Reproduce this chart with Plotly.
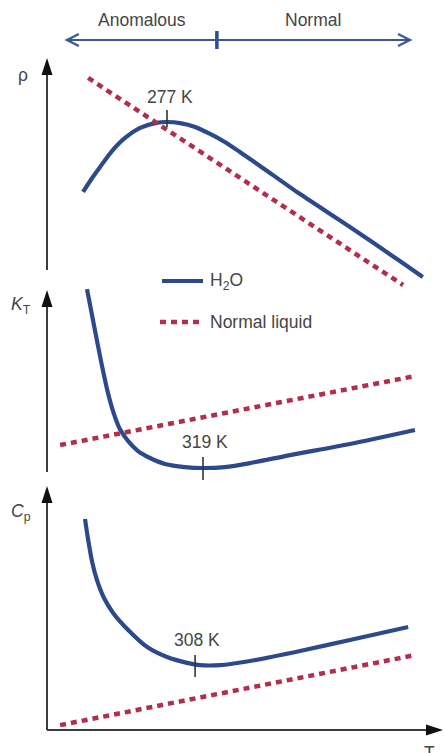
import plotly.graph_objects as go

# ---------------- data (schematic units: T 0..100 along the T axis; each property 0..100 along its axis) -------------
T_rho_h2o = [9.1, 11.4, 13.4, 16.4, 19.7, 23.5, 27.3, 30.3, 33.6, 37.4, 41.2, 44.9, 48.7, 53.8, 63.9, 76.5, 89.1, 94.9]
rho_h2o = [36.8, 43.4, 48.6, 56.1, 62.3, 67.0, 69.3, 69.8, 69.3, 67.5, 64.2, 60.4, 55.7, 49.1, 35.8, 20.3, 4.2, -3.3]
T_rho_normal = [10.4, 89.9]
rho_normal = [90.6, -7.1]

T_kt_h2o = [10.1, 12.1, 13.9, 15.4, 16.9, 18.4, 20.5, 23.0, 26.0, 29.8, 34.8, 39.4, 44.9, 51.3, 61.4, 76.5, 92.9]
kt_h2o = [100.5, 78.0, 58.2, 43.4, 31.9, 23.6, 17.0, 11.5, 7.7, 4.4, 2.7, 2.2, 2.7, 4.9, 9.3, 15.4, 23.1]
T_kt_normal = [3.3, 92.9]
kt_normal = [14.8, 52.7]

T_cp_h2o = [9.6, 10.4, 11.4, 12.6, 14.4, 16.7, 20.5, 25.3, 30.3, 35.4, 38.6, 43.7, 51.3, 63.9, 76.5, 91.2]
cp_h2o = [86.5, 77.9, 68.9, 61.5, 54.1, 48.0, 41.0, 34.0, 29.9, 27.5, 26.6, 26.6, 28.3, 32.4, 36.9, 42.2]
T_cp_normal = [3.3, 92.9]
cp_normal = [2.0, 30.7]

# special points (T position, property value, label)
extrema_T = [30.3, 39.4, 37.4]
extrema_val = [69.8, 2.2, 26.6]
extrema_labels = ["277 K", "319 K", "308 K"]

regime_labels = ["Anomalous", "Normal"]
axis_labels = ["ρ", "<i>K</i><sub>T</sub>", "<i>C</i><sub>p</sub>", "T"]
legend_labels = ["H<sub>2</sub>O", "Normal liquid"]

# ---------------- styling ----------------
W, H = 444, 753
BLUE = "#2c4a8b"
RED = "#b22e4c"
AXC = "#3c3c3c"
TXT = "#454545"
FONT = "Liberation Sans, Arial, sans-serif"
FS = 17.5

# pixel geometry of the T axis (layout only)
T0_PX, PX_PER_T = 47.0, 3.96


def px_to_paper_y(py):
    return 1 - py / H


def y_axis(top_px, bot_px, zero_px, px_per_unit):
    dom = [px_to_paper_y(bot_px), px_to_paper_y(top_px)]
    rng = [(zero_px - bot_px) / px_per_unit, (zero_px - top_px) / px_per_unit]
    return dict(domain=dom, range=rng, visible=False, fixedrange=True)


fig = go.Figure()

blue_line = dict(color=BLUE, width=4.2, shape="spline", smoothing=0.8)
red_line = dict(color=RED, width=4.5, dash="6px,5px")

fig.add_trace(go.Scatter(x=T_rho_h2o, y=rho_h2o, mode="lines", line=blue_line, yaxis="y", showlegend=False))
fig.add_trace(go.Scatter(x=T_rho_normal, y=rho_normal, mode="lines", line=red_line, yaxis="y", showlegend=False))
fig.add_trace(go.Scatter(x=T_kt_h2o, y=kt_h2o, mode="lines", line=blue_line, yaxis="y2", showlegend=False))
fig.add_trace(go.Scatter(x=T_kt_normal, y=kt_normal, mode="lines", line=red_line, yaxis="y2", showlegend=False))
fig.add_trace(go.Scatter(x=T_cp_h2o, y=cp_h2o, mode="lines", line=blue_line, yaxis="y3", showlegend=False))
fig.add_trace(go.Scatter(x=T_cp_normal, y=cp_normal, mode="lines", line=red_line, yaxis="y3", showlegend=False))

shapes = []
annotations = []
yrefs = ["y", "y2", "y3"]

# vertical axis lines with filled arrowheads
axis_tops = [100, 100, 100]
for yr, top in zip(yrefs, axis_tops):
    shapes.append(dict(type="line", xref="x", yref=yr, x0=0, x1=0, y0=0, y1=top - 3,
                       line=dict(color=AXC, width=2)))
    shapes.append(dict(type="path", xref="x", yref=yr, xsizemode="pixel", ysizemode="pixel",
                       xanchor=0, yanchor=top, path="M0,0L-5.5,-17L5.5,-17Z",
                       fillcolor="#111111", line=dict(width=0)))
# horizontal T axis
shapes.append(dict(type="line", xref="x", yref="y3", x0=0, x1=99, y0=0, y1=0,
                   line=dict(color=AXC, width=2)))
shapes.append(dict(type="path", xref="x", yref="y3", xsizemode="pixel", ysizemode="pixel",
                   xanchor=100, yanchor=0, path="M0,0L-17,5.5L-17,-5.5Z",
                   fillcolor="#111111", line=dict(width=0)))

# extrema ticks and labels
tick_spans = [(67.5, 75.5), (-4.4, 8.2), (21.7, 30.7)]
label_offsets = [(0.7, 11.8), (0.5, 14.3), (0.5, 10.3)]
for yr, tx, val, lab, (lo, hi), (dx, dy) in zip(yrefs, extrema_T, extrema_val, extrema_labels,
                                                tick_spans, label_offsets):
    shapes.append(dict(type="line", xref="x", yref=yr, x0=tx, x1=tx, y0=lo, y1=hi,
                       line=dict(color="#333333", width=1.6)))
    annotations.append(dict(x=tx + dx, y=val + dy, xref="x", yref=yr, text=lab, showarrow=False,
                            font=dict(family=FONT, size=FS, color=TXT), xanchor="center", yanchor="middle"))

# axis labels
annotations.append(dict(x=-6.0, y=92, xref="x", yref="y", text=axis_labels[0], showarrow=False,
                        font=dict(family=FONT, size=FS, color=TXT)))
annotations.append(dict(x=-6.6, y=91.5, xref="x", yref="y2", text=axis_labels[1], showarrow=False,
                        font=dict(family=FONT, size=FS, color=TXT)))
annotations.append(dict(x=-6.6, y=89.3, xref="x", yref="y3", text=axis_labels[2], showarrow=False,
                        font=dict(family=FONT, size=FS, color=TXT)))
annotations.append(dict(x=96.6, y=-4.5, xref="x", yref="y3", text=axis_labels[3], showarrow=False,
                        font=dict(family=FONT, size=FS, color=TXT), yanchor="top"))

# regime arrow at the top
arrow_y = px_to_paper_y(40)
annotations.append(dict(x=92.3, y=arrow_y, ax=4.0, ay=0, xref="x", yref="paper", axref="x", ayref="pixel",
                        text="", showarrow=True, arrowhead=5, startarrowhead=5, arrowside="end+start",
                        arrowsize=1.3, startarrowsize=1.3, arrowwidth=1.8, arrowcolor="#3b5998"))
shapes.append(dict(type="line", xref="x", yref="paper", x0=42.9, x1=42.9,
                   y0=px_to_paper_y(49), y1=px_to_paper_y(31), line=dict(color=BLUE, width=3.5)))
annotations.append(dict(x=23.9, y=px_to_paper_y(20), xref="x", yref="paper", text=regime_labels[0],
                        showarrow=False, yanchor="middle", font=dict(family=FONT, size=FS, color=TXT)))
annotations.append(dict(x=67.2, y=px_to_paper_y(20), xref="x", yref="paper", text=regime_labels[1],
                        showarrow=False, yanchor="middle", font=dict(family=FONT, size=FS, color=TXT)))

# manual legend
leg_y = [px_to_paper_y(281), px_to_paper_y(322)]
shapes.append(dict(type="line", xref="paper", yref="paper", x0=162 / W, x1=203 / W, y0=leg_y[0], y1=leg_y[0],
                   line=dict(color=BLUE, width=4.2)))
shapes.append(dict(type="line", xref="paper", yref="paper", x0=160 / W, x1=204 / W, y0=leg_y[1], y1=leg_y[1],
                   line=dict(color=RED, width=4.5, dash="6px,5px")))
for lab, ly in zip(legend_labels, leg_y):
    annotations.append(dict(x=208 / W, y=ly, xref="paper", yref="paper", text=lab, showarrow=False,
                            xanchor="left", yanchor="middle", font=dict(family=FONT, size=FS, color=TXT)))

fig.update_layout(
    width=W, height=H,
    margin=dict(l=0, r=0, t=0, b=0),
    paper_bgcolor="white", plot_bgcolor="rgba(0,0,0,0)",
    showlegend=False,
    xaxis=dict(domain=[0, 1], range=[-T0_PX / PX_PER_T, (W - T0_PX) / PX_PER_T], visible=False, fixedrange=True),
    yaxis=y_axis(50, 300, 270, 2.12),
    yaxis2=dict(**y_axis(283, 490, 472, 1.82), anchor="x"),
    yaxis3=dict(**y_axis(480, 745, 730, 2.44), anchor="x"),
    shapes=shapes,
    annotations=annotations,
)

fig.write_html("out.html")
